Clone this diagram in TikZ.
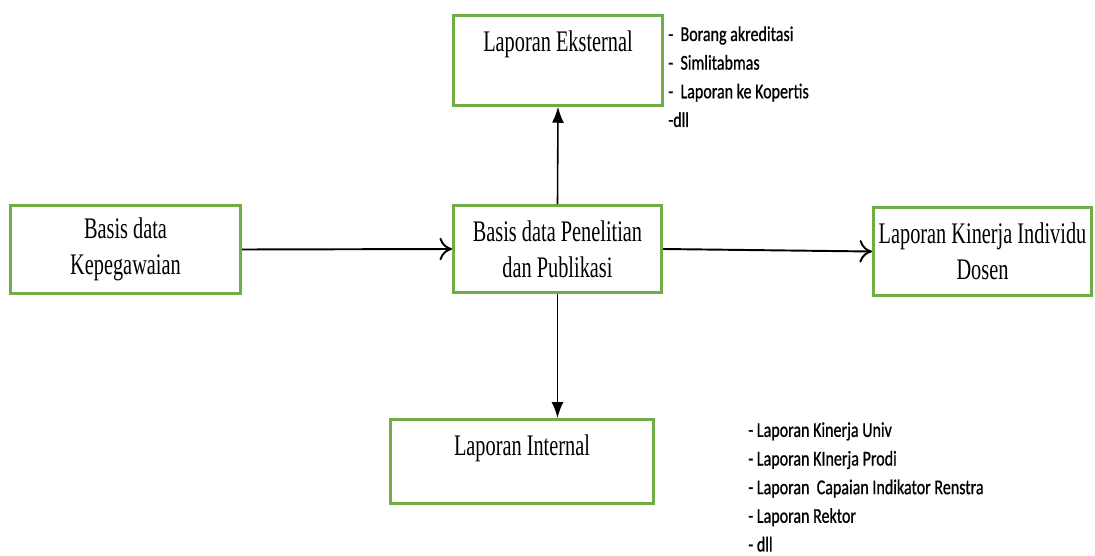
\documentclass[tikz,border=0pt]{standalone}
\usepackage{fontspec}
\usetikzlibrary{arrows.meta}
\newfontfamily\boxfont[FakeStretch=0.68]{Liberation Serif}
\newfontfamily\listfont[FakeStretch=0.76,FakeBold=0.8]{Carlito}
\definecolor{boxgreen}{RGB}{112,173,71}
\begin{document}
\begin{tikzpicture}[
    box/.style={draw=boxgreen, line width=0.06cm, align=center, inner xsep=0.1cm, inner ysep=0.12cm,
                font=\boxfont\fontsize{17}{20.5}\selectfont},
    items/.style={anchor=north west, inner sep=0, align=left,
                font=\listfont\fontsize{12}{16.3}\selectfont},
    flow/.style={line width=1.1pt, -{To[length=2.5mm,width=4.5mm]}},
    down/.style={line width=0.9pt, -{Latex[length=3.2mm,width=2.4mm]}}
  ]
    \useasboundingbox (0, 0) rectangle (21.9, 11.1);

    % source databases
    \node [box, minimum width=4.6cm, minimum height=1.76cm] (peg) at (2.51, 6.11)
          {Basis data\\Kepegawaian};
    \node [box, minimum width=4.16cm, minimum height=1.74cm] (pen) at (11.15, 6.12)
          {Basis data Penelitian\\dan Publikasi};

    % reports
    \node [box, minimum width=4.18cm, text height=0.6cm, text depth=0.95cm] (ext) at (11.16, 9.89)
          {Laporan Eksternal};
    \node [box, minimum width=4.36cm, minimum height=1.76cm] (kin) at (19.65, 6.07)
          {Laporan Kinerja Individu\\Dosen};
    \node [box, minimum width=5.26cm, text height=0.6cm, text depth=0.84cm] (int) at (10.44, 1.87)
          {Laporan Internal};

    % report contents
    \node [items] (extlist) at (13.36, 10.58)
          {-\ \ Borang akreditasi\\-\ \ Simlitabmas\\-\ \ Laporan ke Kopertis\\-dll};
    \node [items] (intlist) at (14.96, 2.66)
          {- Laporan Kinerja Univ\\- Laporan KInerja Prodi\\- Laporan\ \ Capaian Indikator Renstra\\- Laporan Rektor\\- dll};

    % flows
    \draw [flow] (peg.east) -- (pen.west);
    \draw [flow] (pen.east) -- (kin.west);
    \draw [down] (pen.north) -- (ext.south);
    \draw [down] (pen.south) -- (pen.south |- int.north);
  \end{tikzpicture}
\end{document}
